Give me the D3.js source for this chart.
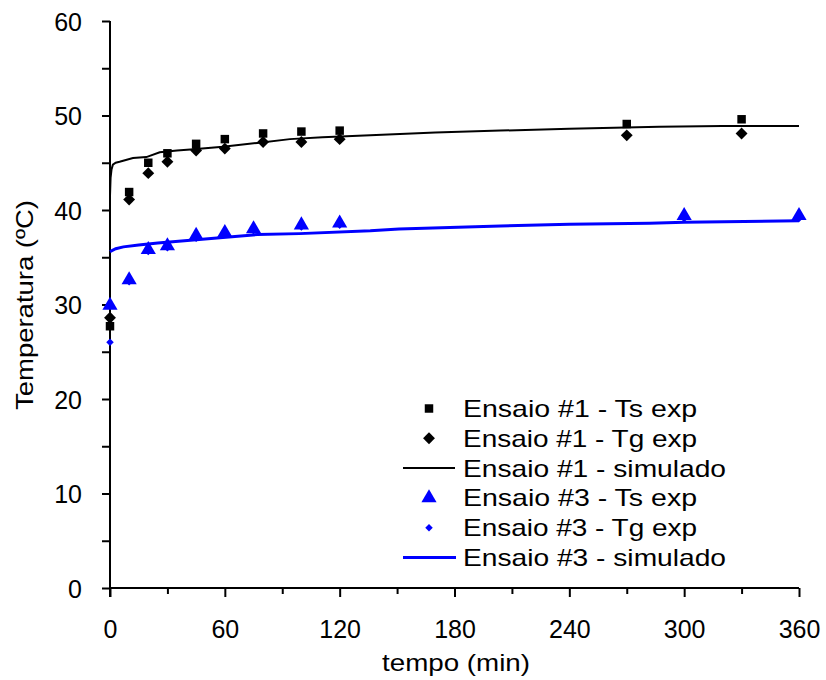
<!DOCTYPE html>
<html><head><meta charset="utf-8">
<script src="https://cdn.jsdelivr.net/npm/d3@7"></script>
<style>body{margin:0;background:#fff}svg{display:block}text{font-family:"Liberation Sans",Arial,sans-serif}</style>
</head><body><svg id="c" width="826" height="680"></svg>
<script>
const xTicks = [0,60,120,180,240,300,360];
const yTicks = [0,10,20,30,40,50,60];

// Ensaio #1 - Ts exp (squares)
const e1TsT = [0,10,20,30,45,60,80,100,120,270,330];
const e1TsV = [27.7,41.9,45.0,46.0,47.0,47.5,48.1,48.3,48.4,49.1,49.6];
// Ensaio #1 - Tg exp (diamonds)
const e1TgT = [0,10,20,30,45,60,80,100,120,270,330];
const e1TgV = [28.6,41.1,43.9,45.1,46.3,46.5,47.2,47.2,47.5,47.9,48.1];
// Ensaio #1 - simulado
const e1SimT = [0,0.3,0.8,1.5,3,5,12,19,26,35,42,59,77,94,111,136,170,204,240,287,320,360];
const e1SimV = [41.5,43.4,44.3,44.8,45.0,45.1,45.5,45.6,46.1,46.3,46.4,46.7,47.1,47.5,47.7,47.9,48.2,48.4,48.6,48.8,48.9,48.9];
// Ensaio #3 - Ts exp (triangles)
const e3TsT = [0,10,20,30,45,60,75,100,120,300,360];
const e3TsV = [29.9,32.6,35.8,36.2,37.3,37.6,38.0,38.4,38.6,39.4,39.4];
// Ensaio #3 - Tg exp (small diamonds)
const e3TgT = [0,10,20,30,45,60,75,100,120,300,360];
const e3TgV = [26.0,32.4,35.6,36.0,37.0,37.4,37.8,38.2,38.4,39.1,39.1];
// Ensaio #3 - simulado
const e3SimT = [0,3,7,15,25,42,59,77,99,136,151,204,240,282,300,360];
const e3SimV = [35.6,35.9,36.1,36.3,36.5,36.8,37.1,37.4,37.5,37.8,38.0,38.3,38.5,38.6,38.7,38.85];

const legendLabels = ["Ensaio #1 - Ts exp","Ensaio #1 - Tg exp","Ensaio #1 - simulado","Ensaio #3 - Ts exp","Ensaio #3 - Tg exp","Ensaio #3 - simulado"];

const svg = d3.select("#c");
const x = d3.scaleLinear().domain([0,360]).range([110,799]);
const y = d3.scaleLinear().domain([0,60]).range([588,21]);
const BLUE = "#0000ff";

// axes
const yAx = svg.append("g").attr("transform","translate(110,0)")
  .call(d3.axisLeft(y).tickValues(d3.range(0,61,5)).tickSize(8).tickFormat(d=>yTicks.includes(d)?d:""));
const xAx = svg.append("g").attr("transform","translate(0,588)")
  .call(d3.axisBottom(x).tickValues(d3.range(0,361,30)).tickSize(9).tickFormat(d=>xTicks.includes(d)?d:""));
[yAx,xAx].forEach(g=>{
  g.select(".domain").attr("stroke","#000").attr("stroke-width",2);
  g.selectAll(".tick line").attr("stroke","#000").attr("stroke-width",2);
  g.selectAll(".tick text").attr("fill","#000").attr("font-size",25).style("font-family","'Liberation Sans',Arial,sans-serif");
});
yAx.selectAll(".tick text").attr("x",-28).attr("dy",null).attr("dominant-baseline",null).attr("y",9);
xAx.selectAll(".tick text").attr("y",50).attr("dy",null);
xAx.selectAll(".tick").filter(d=>!xTicks.includes(d)).select("line").attr("y2",6);
yAx.select(".domain").attr("d","M0,"+y(60)+"V"+(y(0)+9));
xAx.select(".domain").attr("d","M"+x(0)+",0H"+x(360));

svg.append("text").attr("x",456).attr("y",671).attr("text-anchor","middle").attr("font-size",24)
  .attr("textLength",148).attr("lengthAdjust","spacingAndGlyphs").text("tempo (min)");
svg.append("text").attr("transform","translate(33,305) rotate(-90)").attr("text-anchor","middle").attr("font-size",24)
  .attr("textLength",210).attr("lengthAdjust","spacingAndGlyphs").text("Temperatura (ºC)");

const line = d3.line().x(d=>x(d[0])).y(d=>y(d[1]));
const zip = (a,b)=>a.map((t,i)=>[t,b[i]]);

svg.append("path").datum(zip(e1SimT,e1SimV)).attr("d",line).attr("fill","none").attr("stroke","#000").attr("stroke-width",2);
svg.append("path").datum(zip(e3SimT,e3SimV)).attr("d",line).attr("fill","none").attr("stroke",BLUE).attr("stroke-width",3);

const sq = d3.symbol().type(d3.symbolSquare).size(72);
const dia = d3.symbol().type(d3.symbolDiamond2).size(90);
const tri = d3.symbol().type(d3.symbolTriangle).size(100);
const smallDia = d3.symbol().type(d3.symbolDiamond2).size(36);

function pts(T,V,sym,color){
  svg.append("g").selectAll("path").data(zip(T,V)).join("path")
    .attr("d",sym).attr("fill",color)
    .attr("transform",d=>`translate(${x(d[0])},${y(d[1])})`);
}
pts(e3TgT,e3TgV,smallDia,BLUE);
pts(e3TsT,e3TsV,tri,BLUE);
pts(e1TsT,e1TsV,sq,"#000");
pts(e1TgT,e1TgV,dia,"#000");

// legend
const lg = svg.append("g");
const b0 = 417, dy = 29.8;
legendLabels.forEach((lab,i)=>{
  lg.append("text").attr("x",463).attr("y",b0+i*dy).attr("font-size",24)
    .attr("textLength",lab.endsWith("simulado")?263:234).attr("lengthAdjust","spacingAndGlyphs").text(lab);
});
const sx = 429, c = b0-8.5;
lg.append("path").attr("d",sq).attr("fill","#000").attr("transform",`translate(${sx},${c})`);
lg.append("path").attr("d",dia).attr("fill","#000").attr("transform",`translate(${sx},${c+dy})`);
lg.append("line").attr("x1",403).attr("x2",455).attr("y1",c+2*dy).attr("y2",c+2*dy).attr("stroke","#000").attr("stroke-width",2);
lg.append("path").attr("d",tri).attr("fill",BLUE).attr("transform",`translate(${sx},${c+3*dy})`);
lg.append("path").attr("d",smallDia).attr("fill",BLUE).attr("transform",`translate(${sx},${c+4*dy})`);
lg.append("line").attr("x1",403).attr("x2",456).attr("y1",c+5*dy).attr("y2",c+5*dy).attr("stroke",BLUE).attr("stroke-width",3);
</script></body></html>
